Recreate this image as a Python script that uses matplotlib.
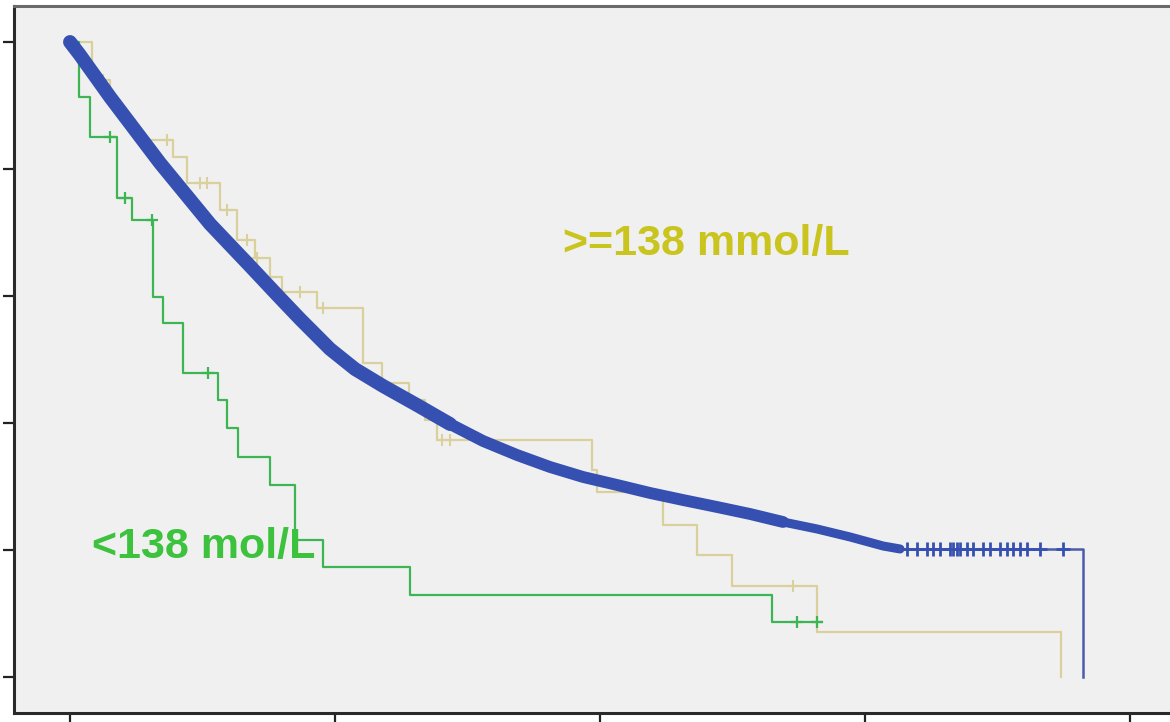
import matplotlib.pyplot as plt

plt.rcParams['font.family'] = ['Liberation Sans', 'DejaVu Sans']

# serum sodium >= 138 mmol/L (large group, dense curve)
high_t = [0, 1.89, 7.55, 16.98, 26.42, 33.96, 39.62, 43.40, 49.06, 53.77,
          59.06, 65.47, 71.70, 77.92, 84.34, 90.57, 96.79, 103.21, 109.43,
          115.66, 122.08, 128.30, 134.53, 140.94, 147.17, 153.40, 156.60]
high_s = [1.0, 0.9795, 0.9134, 0.8094, 0.7134, 0.6472, 0.5969, 0.5638,
          0.5165, 0.4850, 0.4583, 0.4283, 0.3984, 0.3717, 0.3496, 0.3307,
          0.3150, 0.3024, 0.2898, 0.2787, 0.2677, 0.2567, 0.2441, 0.2331,
          0.2205, 0.2063, 0.2016]
high_tail_end = 191.1
high_cens = [157.9, 159.8, 161.7, 162.8, 164.2, 166.0, 166.6, 167.4, 167.9,
             169.2, 170.4, 172.3, 173.6, 175.5, 176.8, 177.9, 179.2, 180.6,
             183.0, 187.4]

# serum sodium < 138 mmol/L
low_t = [0, 1.7, 3.8, 8.9, 11.7, 15.7, 17.5, 21.3, 27.9, 29.6, 31.7, 37.7,
         42.5, 47.7, 64.2, 132.5, 141.9]
low_s = [1.0, 0.913, 0.850, 0.754, 0.720, 0.598, 0.557, 0.479, 0.436, 0.392,
         0.346, 0.302, 0.216, 0.173, 0.129, 0.087, 0.087]
low_cens_t = [7.5, 10.4, 15.5, 26.0, 137.2, 140.9]
low_cens_s = [0.850, 0.754, 0.720, 0.479, 0.087, 0.087]

# third group (tan)
mid_t = [0, 4.2, 7.5, 9.4, 12.3, 19.4, 22.1, 28.3, 31.5, 34.9, 37.7, 40.0,
         46.6, 55.3, 58.9, 64.0, 67.0, 69.2, 98.5, 99.4, 111.9, 118.3, 124.9,
         140.9, 187.0]
mid_s = [1.0, 0.940, 0.909, 0.877, 0.846, 0.819, 0.778, 0.735, 0.688, 0.660,
         0.630, 0.606, 0.581, 0.494, 0.463, 0.436, 0.405, 0.373, 0.326, 0.291,
         0.239, 0.192, 0.143, 0.071, 0.0]
mid_cens_t = [6.2, 18.3, 24.5, 25.8, 29.6, 33.4, 35.3, 43.4, 47.7, 70.2, 71.7,
              136.4]
mid_cens_s = [0.940, 0.846, 0.778, 0.778, 0.735, 0.688, 0.660, 0.606, 0.581,
              0.373, 0.373, 0.143]

fig = plt.figure(figsize=(11.7, 7.22), dpi=100, facecolor='white')
ax = fig.add_axes([0.01239, 0.01247, 0.9893, 0.9792])
ax.set_facecolor('#f0f0f0')

blue = '#3550b0'
green = '#3db553'
tan = '#d9d09c'

# tan group
ax.plot(mid_t, mid_s, drawstyle='steps-post', color=tan, lw=1.6, zorder=2)
ax.plot(mid_cens_t, mid_cens_s, ls='none', marker='+', ms=9, mew=1.5,
        color=tan, zorder=2)

# green group
ax.plot(low_t, low_s, drawstyle='steps-post', color=green, lw=1.6, zorder=3)
ax.plot(low_cens_t, low_cens_s, ls='none', marker='+', ms=9, mew=1.6,
        color=green, zorder=3)

# blue group: thick band where censor marks pile up, thinner toward the tail
band = dict(color=blue, solid_capstyle='round', solid_joinstyle='round',
            zorder=4)
ax.plot(high_t[:13], high_s[:13], lw=10, **band)
ax.plot(high_t[12:23], high_s[12:23], lw=8.5, **band)
ax.plot(high_t[22:], high_s[22:], lw=6.5, **band)
ax.plot([high_t[-1], high_tail_end, high_tail_end],
        [high_s[-1], high_s[-1], 0.0], color='#4a5caa', lw=1.8, zorder=4)
ax.plot(high_cens, [high_s[-1]] * len(high_cens), ls='none', marker='+',
        ms=10, mew=2, color=blue, zorder=4)

ax.text(4.15, 0.187, '<138 mol/L', color='#3cc23c', fontsize=31,
        fontweight='bold', va='baseline', ha='left', zorder=5)
ax.text(93.0, 0.665, '>=138 mmol/L', color='#c9c41e', fontsize=31,
        fontweight='bold', va='baseline', ha='left', zorder=5)

ax.set_xlim(-10.47, 207.9)
ax.set_ylim(-0.0567, 1.0567)
ax.set_xticks([0, 50, 100, 150, 200])
ax.set_yticks([0, 0.2, 0.4, 0.6, 0.8, 1.0])
ax.set_xticklabels([])
ax.set_yticklabels([])
ax.tick_params(direction='out', length=8, width=1.6, color='#222222')

ax.spines['right'].set_visible(False)
ax.spines['left'].set_color('#2a2a2a')
ax.spines['bottom'].set_color('#2a2a2a')
ax.spines['top'].set_color('#6a6a6a')
for side in ['left', 'bottom', 'top']:
    ax.spines[side].set_linewidth(2.2)

fig.savefig('out.png', dpi=100, facecolor='white')
